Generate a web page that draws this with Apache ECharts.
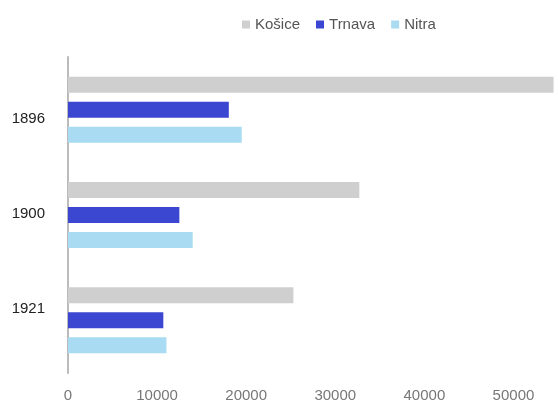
<!DOCTYPE html>
<html>
<head>
<meta charset="utf-8">
<script src="https://cdn.jsdelivr.net/npm/echarts@6/dist/echarts.min.js"></script>
<style>html,body{margin:0;padding:0;background:#fff}#c{width:558px;height:405px}</style>
</head>
<body>
<div id="c"></div>
<script>
var years = ['1896', '1900', '1921'];
var seriesNames = ['Košice', 'Trnava', 'Nitra'];
var kosice = [54500, 32700, 25300];
var trnava = [18050, 12500, 10700];
var nitra = [19500, 14000, 11050];
var xTicks = [0, 10000, 20000, 30000, 40000, 50000];

var colors = ['#cfcfcf', '#3b46d1', '#a9dcf2'];
var font = 'Liberation Sans, Arial, sans-serif';
var chart = echarts.init(document.getElementById('c'));
var dataSets = [kosice, trnava, nitra];
chart.setOption({
  animation: false,
  color: colors,
  legend: {
    top: 12, left: 237,
    itemWidth: 8, itemHeight: 8, itemGap: 16,
    icon: 'rect',
    textStyle: {color: '#555', fontSize: 15, fontFamily: font},
    data: seriesNames
  },
  grid: [
    {left: 68, right: -13, top: 57, bottom: 32},
    {left: 68, right: -13, top: 71, height: 285}
  ],
  xAxis: [
    {type: 'value', gridIndex: 0, min: 0, max: 55000, interval: 10000,
     axisLine: {show: false}, axisTick: {show: false}, splitLine: {show: false},
     axisLabel: {color: '#777', fontSize: 15, fontFamily: font, margin: 15, showMaxLabel: false,
       formatter: function (v) { return xTicks.indexOf(v) >= 0 ? String(v) : ''; }}},
    {type: 'value', gridIndex: 1, show: false, min: 0, max: 55000}
  ],
  yAxis: [
    {type: 'category', gridIndex: 0, data: years, inverse: true,
     axisLine: {show: true, lineStyle: {color: '#bbbbbb', width: 2}},
     axisTick: {show: false}, axisLabel: {show: false}},
    {type: 'category', gridIndex: 1, data: years, inverse: true,
     axisLine: {show: false}, axisTick: {show: false},
     axisLabel: {color: '#222', fontSize: 15, fontFamily: font, margin: 23}}
  ],
  series: seriesNames.map(function (n, i) {
    return {
      name: n, type: 'bar', xAxisIndex: 0, yAxisIndex: 0,
      data: dataSets[i], barWidth: 16, barGap: '56%',
      itemStyle: {color: colors[i]}
    };
  })
});
</script>
</body>
</html>
